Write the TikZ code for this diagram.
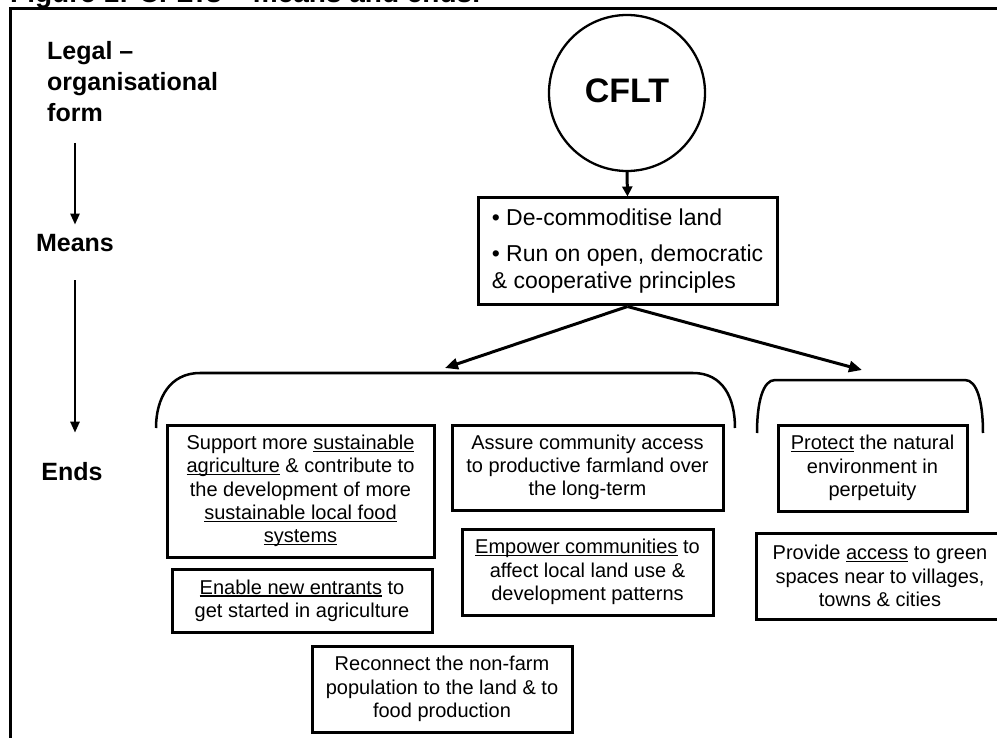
\documentclass[tikz,border=0pt]{standalone}
\usepackage{fontspec}
\setmainfont{Liberation Sans}
\usetikzlibrary{arrows.meta}
\newcommand{\myul}[1]{\setbox0=\hbox{#1}\rlap{\rule[-2.6pt]{\wd0}{1.2pt}}\box0\relax}
\begin{document}
\begin{tikzpicture}[x=1pt,y=-1pt,
  ebox/.style={draw, line width=3pt, inner sep=0pt, align=center,
    font=\fontsize{20}{23.3}\selectfont},
  lbl/.style={font=\bfseries\fontsize{25}{31}\selectfont, inner sep=0pt},
  arr/.style={line width=3pt, -{Triangle[length=13pt,width=11pt]}},
  varr/.style={line width=2.5pt, -{Triangle[length=11pt,width=9pt]}},
  brk/.style={line width=2.5pt}]
\useasboundingbox (0,0) rectangle (997,738);
\clip (0,0) rectangle (997,738);
% title (cut by the page edge) and frame
\node[font=\bfseries\fontsize{28}{32}\selectfont, anchor=base west, inner sep=0pt] (title) at (10,3) {Figure 1: CFLTs – means and ends.};
\draw[line width=3pt] (10,760) -- (10,9) -- (1010,9);
% left labels
\node[lbl, anchor=north west, align=left] (legal) at (47,41) {Legal –\\organisational\\form};
\node[lbl, anchor=base] (meanslbl) at (75,252) {Means};
\node[lbl, anchor=base] (endslbl) at (72,480) {Ends};
\draw[varr, shorten <=21pt, shorten >=10pt] (legal.south -| meanslbl.north) -- (meanslbl.north);
\draw[varr, shorten <=28pt, shorten >=29pt] (meanslbl.south) -- (meanslbl.south |- endslbl.north);
% CFLT circle
\node[draw, circle, line width=2.3pt, minimum size=156pt, inner sep=0pt,
  font=\bfseries\fontsize{34}{38}\selectfont] (cflt) at (627,93) {\raisebox{5pt}{CFLT}};
% means box
\node[draw, line width=3pt, inner sep=0pt, minimum width=299pt, minimum height=107pt,
  font=\fontsize{23}{27}\selectfont] (means) at (627.5,251.5)
  {\begin{tabular}{@{}l@{}}• De-commoditise land\\[9pt]• Run on open, democratic\\\& cooperative principles\end{tabular}};
\draw[line width=3pt, -{Triangle[length=10pt,width=10pt]}] (cflt.south) -- (means.north);
% brackets
\draw[brk] (156,428) .. controls (156,398) and (170,373) .. (200,373) -- (693,373)
  .. controls (723,373) and (735,398) .. (735,428);
\draw[brk] (757,433) .. controls (757,402) and (763,380) .. (775,380) -- (965,380)
  .. controls (977,380) and (983,402) .. (983,433);
\coordinate (ltip) at (445,368);
\coordinate (rtip) at (862,370);
\draw[arr] (means.south) -- (ltip);
\draw[arr] (means.south) -- (rtip);
% ends boxes
\node[ebox, minimum width=267pt, minimum height=132pt] (support) at (300.5,491)
  {Support more \myul{sustainable}\\\myul{agriculture} \& contribute to\\the development of more\\\myul{sustainable local food}\\\myul{systems}};
\node[ebox, minimum width=271pt, minimum height=85pt] (assure) at (587.5,467.5)
  {Assure community access\\to productive farmland over\\the long-term};
\node[ebox, minimum width=251pt, minimum height=86pt] (empower) at (587.5,572)
  {\myul{Empower communities} to\\affect local land use \&\\development patterns};
\node[ebox, minimum width=260pt, minimum height=63pt] (enable) at (302,600.5)
  {\myul{Enable new entrants} to\\get started in agriculture};
\node[ebox, minimum width=260pt, minimum height=86pt] (reconnect) at (442,689)
  {Reconnect the non-farm\\population to the land \& to\\food production};
\node[ebox, minimum width=189pt, minimum height=86pt] (protect) at (872.5,468)
  {\myul{Protect} the natural\\environment in\\perpetuity};
\node[ebox, minimum width=248pt, minimum height=86pt] (provide) at (880,576)
  {Provide \myul{access} to green\\spaces near to villages,\\towns \& cities};
\end{tikzpicture}
\end{document}
